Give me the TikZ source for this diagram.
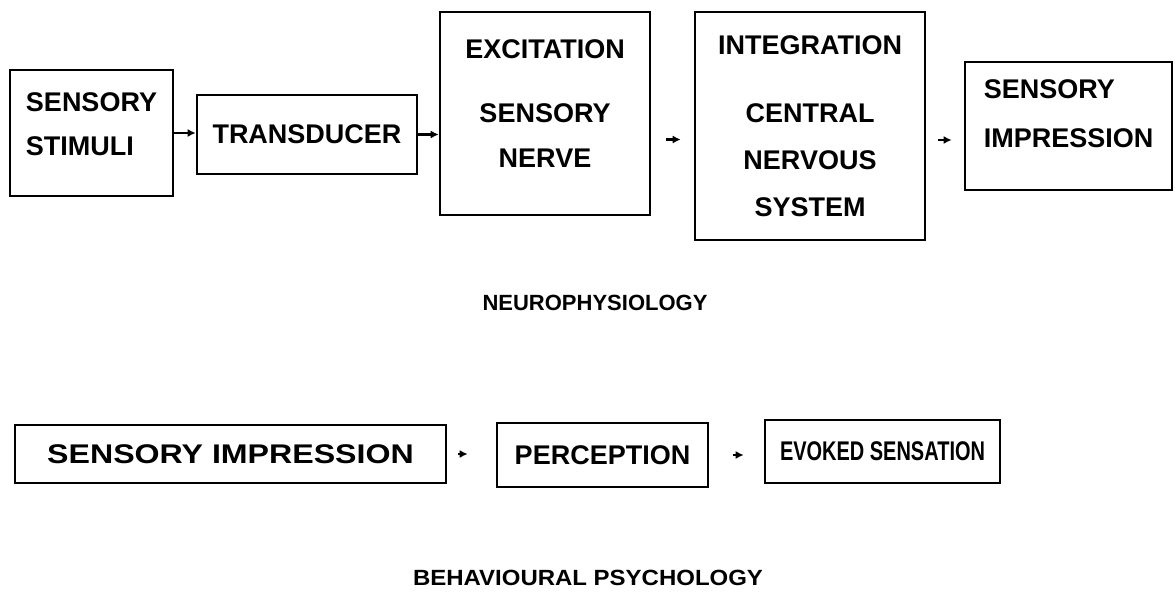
\documentclass[tikz,border=0pt]{standalone}
\usepackage{fontspec}
\usepackage{graphicx}
\setmainfont{Liberation Sans}
\usetikzlibrary{arrows.meta}

\begin{document}
\begin{tikzpicture}[x=0.5pt, y=-0.5pt, line width=1.3pt,
    block/.style = {draw, inner sep=0pt, font=\fontsize{13.5}{23.5}\selectfont\bfseries},
    caption/.style = {font=\fontsize{11}{13}\selectfont\bfseries},
    link/.style = {-{Latex[length=4pt, width=4pt]}}]
    \useasboundingbox (0,0) rectangle (1176,599);

    % neurophysiology
    \node[block, align=left, minimum width=81.5pt, minimum height=63pt] (S) at (91.5,133) {SENSORY\\[-1.5pt]STIMULI\\[-14.5pt]\rule{0pt}{0pt}};
    \node[block, minimum width=110pt, minimum height=39.5pt] (T) at (307,134.5) {TRANSDUCER};
    \node[block, align=center, minimum width=105pt, minimum height=101.5pt] (E) at (545,113.5) {EXCITATION\\[8.5pt]SENSORY\\[-1pt]NERVE\\[-13.5pt]\rule{0pt}{0pt}};
    \node[block, align=center, minimum width=115pt, minimum height=114pt] (I) at (810,126) {INTEGRATION\\[10.5pt]CENTRAL\\NERVOUS\\SYSTEM};
    \node[block, align=left, minimum width=103.5pt, minimum height=64pt] (P) at (1068.5,126) {SENSORY\\[1pt]IMPRESSION\\[-11.5pt]\rule{0pt}{0pt}};
    \node[caption] (N) at (595,303) {NEUROPHYSIOLOGY};

    \draw[link] (S.east) -- (S.east -| T.west);
    \draw[link] (T.east) -- (T.east -| E.west);
    \draw[link, shorten <=7.5pt, shorten >=6.5pt] ([yshift=-13pt]E.east) -- ([yshift=-13pt]E.east -| I.west);
    \draw[link, shorten <=6pt, shorten >=6pt] ([yshift=-7pt]I.east) -- ([yshift=-7pt]I.east -| P.west);

    % behavioural psychology
    \node[block, minimum width=215.5pt, minimum height=29pt] (A) at (230.5,454) {\scalebox{1.19}[1]{SENSORY IMPRESSION}};
    \node[block, minimum width=105.5pt, minimum height=32pt] (B) at (602.5,455) {PERCEPTION};
    \node[block, minimum width=117.5pt, minimum height=31.5pt] (C) at (882.5,451.5) {\scalebox{0.74}[1]{EVOKED SENSATION}};
    \node[caption] (H) at (588,578) {\scalebox{1.09}[1]{BEHAVIOURAL PSYCHOLOGY}};

    \draw[link, shorten <=5.5pt, shorten >=14pt] (A.east) -- (A.east -| B.west);
    \draw[link, shorten <=12pt, shorten >=10pt] (B.east) -- (B.east -| C.west);
\end{tikzpicture}
\end{document}
